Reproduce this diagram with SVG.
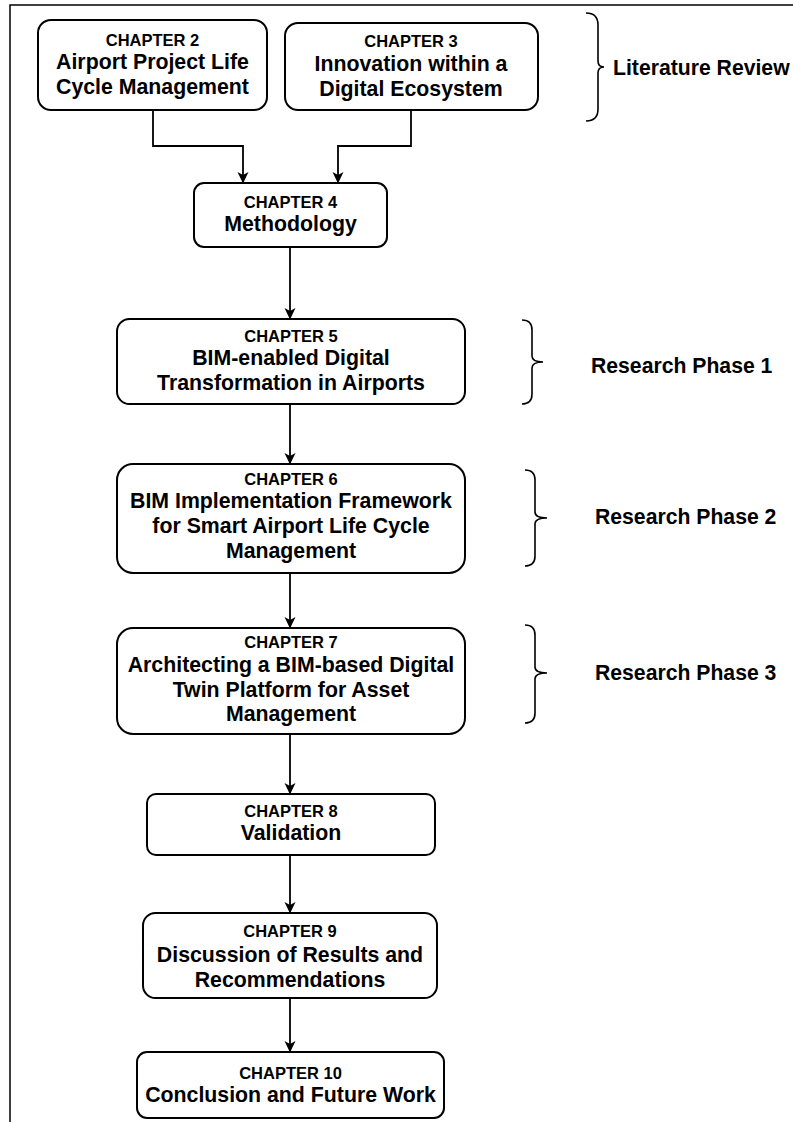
<svg xmlns="http://www.w3.org/2000/svg" width="793" height="1122" viewBox="0 0 793 1122">
  <style>
    .box { fill: #ffffff; stroke: #000000; stroke-width: 2; }
    .edge { fill: none; stroke: #000000; stroke-width: 1.8; }
    .brace { fill: none; stroke: #000000; stroke-width: 1.6; }
    .frame { fill: none; stroke: #000000; stroke-width: 1.5; }
    text { font-family: "Liberation Sans", Arial, sans-serif; font-weight: bold; fill: #000000; }
    .ch { font-size: 16.5px; text-anchor: middle; }
    .ttl { font-size: 21.3px; text-anchor: middle; }
    .side { font-size: 21.2px; }
  </style>
  <defs>
    <marker id="arrow" viewBox="0 0 12 12" refX="11" refY="6" markerWidth="12" markerHeight="12" markerUnits="userSpaceOnUse" orient="auto">
      <path d="M0,0.5 L11.5,6 L0,11.5 L3,6 Z" fill="#000000"/>
    </marker>
  </defs>

  <rect width="793" height="1122" fill="#ffffff"/>
  <!-- page frame -->
  <path class="frame" d="M10,1122 L10,5 L793,5"/>

  <!-- connectors -->
  <g id="connectors">
    <path class="edge" d="M153,110 L153,146 L243,146 L243,183" marker-end="url(#arrow)"/>
    <path class="edge" d="M411,110 L411,146 L338,146 L338,183" marker-end="url(#arrow)"/>
    <path class="edge" d="M290,247 L290,319" marker-end="url(#arrow)"/>
    <path class="edge" d="M290,404 L290,464" marker-end="url(#arrow)"/>
    <path class="edge" d="M290,573 L290,628" marker-end="url(#arrow)"/>
    <path class="edge" d="M290,734 L290,794" marker-end="url(#arrow)"/>
    <path class="edge" d="M290,855 L290,913" marker-end="url(#arrow)"/>
    <path class="edge" d="M290,998 L290,1052" marker-end="url(#arrow)"/>
  </g>

  <g id="ch2">
    <rect class="box" x="38" y="20" width="229" height="90" rx="13" ry="13"/>
    <text class="ch" x="152.5" y="46">CHAPTER 2</text>
    <text class="ttl" x="152.5" y="69">Airport Project Life</text>
    <text class="ttl" x="152.5" y="94">Cycle Management</text>
  </g>

  <g id="ch3">
    <rect class="box" x="285" y="23" width="253" height="87" rx="13" ry="13"/>
    <text class="ch" x="411" y="47">CHAPTER 3</text>
    <text class="ttl" x="411" y="71">Innovation within a</text>
    <text class="ttl" x="411" y="96">Digital Ecosystem</text>
  </g>

  <g id="ch4">
    <rect class="box" x="194" y="183" width="193" height="64" rx="10" ry="10"/>
    <text class="ch" x="290.5" y="208">CHAPTER 4</text>
    <text class="ttl" x="290.5" y="231">Methodology</text>
  </g>

  <g id="ch5">
    <rect class="box" x="117" y="319" width="348" height="85" rx="12.5" ry="12.5"/>
    <text class="ch" x="291" y="342">CHAPTER 5</text>
    <text class="ttl" x="291" y="365">BIM-enabled Digital</text>
    <text class="ttl" x="291" y="390">Transformation in Airports</text>
  </g>

  <g id="ch6">
    <rect class="box" x="117" y="464" width="348" height="109" rx="16" ry="16"/>
    <text class="ch" x="291" y="485">CHAPTER 6</text>
    <text class="ttl" x="291" y="508">BIM Implementation Framework</text>
    <text class="ttl" x="291" y="533">for Smart Airport Life Cycle</text>
    <text class="ttl" x="291" y="558">Management</text>
  </g>

  <g id="ch7">
    <rect class="box" x="117" y="628" width="348" height="106" rx="16" ry="16"/>
    <text class="ch" x="291" y="648">CHAPTER 7</text>
    <text class="ttl" x="291" y="672">Architecting a BIM-based Digital</text>
    <text class="ttl" x="291" y="697">Twin Platform for Asset</text>
    <text class="ttl" x="291" y="721">Management</text>
  </g>

  <g id="ch8">
    <rect class="box" x="147" y="794" width="288" height="61" rx="9" ry="9"/>
    <text class="ch" x="291" y="817">CHAPTER 8</text>
    <text class="ttl" x="291" y="840">Validation</text>
  </g>

  <g id="ch9">
    <rect class="box" x="143" y="913" width="294" height="85" rx="12.5" ry="12.5"/>
    <text class="ch" x="290" y="937">CHAPTER 9</text>
    <text class="ttl" x="290" y="962">Discussion of Results and</text>
    <text class="ttl" x="290" y="987">Recommendations</text>
  </g>

  <g id="ch10">
    <rect class="box" x="137" y="1052" width="307" height="66" rx="10" ry="10"/>
    <text class="ch" x="290.5" y="1079">CHAPTER 10</text>
    <text class="ttl" x="290.5" y="1102">Conclusion and Future Work</text>
  </g>

  <!-- grouping braces and their labels -->
  <g id="literature-review">
    <path class="brace" d="M586,13 Q598,13 598,25 L598,61 Q598,67 604,67 Q598,67 598,73 L598,109 Q598,121 586,121"/>
    <text class="side" x="613" y="75">Literature Review</text>
  </g>

  <g id="phase-1">
    <path class="brace" d="M522,320 Q532,320 532,330 L532,356 Q532,362 543,362 Q532,362 532,368 L532,394 Q532,404 522,404"/>
    <text class="side" x="591" y="373">Research Phase 1</text>
  </g>

  <g id="phase-2">
    <path class="brace" d="M525,470 Q535,470 535,480 L535,512 Q535,518 547,518 Q535,518 535,524 L535,556 Q535,566 525,566"/>
    <text class="side" x="595" y="524">Research Phase 2</text>
  </g>

  <g id="phase-3">
    <path class="brace" d="M525,625 Q535,625 535,635 L535,667 Q535,673 547,673 Q535,673 535,679 L535,713 Q535,723 525,723"/>
    <text class="side" x="595" y="680">Research Phase 3</text>
  </g>
</svg>
